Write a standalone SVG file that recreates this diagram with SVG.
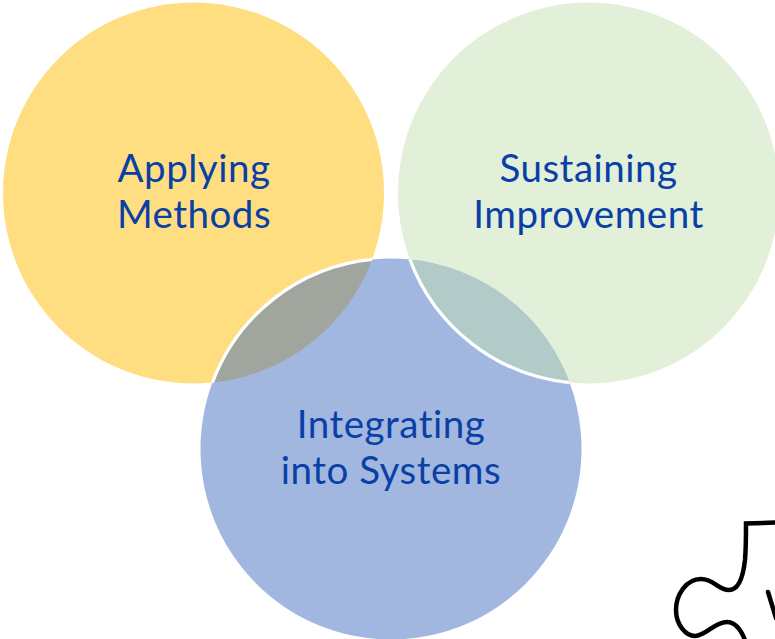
<svg xmlns="http://www.w3.org/2000/svg" width="775" height="639" viewBox="0 0 775 639">
<style>
text{font-family:"Lato","Open Sans","Liberation Sans",sans-serif;font-size:38.5px;fill:#0A3FA6;text-anchor:middle;font-variant-ligatures:none;letter-spacing:.5px}
.seam{fill:none;stroke:#fff;stroke-width:3.2}
.puzzle{fill:none;stroke:#000;stroke-width:4.5;stroke-linecap:round;stroke-linejoin:miter}
</style>
<rect width="775" height="639" fill="#fff"/>
<g id="node-applying">
<circle cx="193.5" cy="193" r="190.5" fill="#FFDD81"/>
<text x="194" y="182">Applying</text>
<text x="194" y="228">Methods</text>
</g>
<g id="node-sustaining">
<circle cx="588.5" cy="193" r="190.5" fill="#E2EFD9"/>
<text x="588.5" y="182">Sustaining</text>
<text x="588.5" y="228">Improvement</text>
</g>
<g id="node-integrating">
<circle cx="391" cy="449" r="190.5" fill="#A1B7E0"/>
<path d="M372.06 259.4A190.5 190.5 0 0 0 212.4 382.6A190.5 190.5 0 0 0 372.06 259.4Z" fill="#A0A69E"/>
<path d="M409.9 259.4A190.5 190.5 0 0 1 569.6 382.6A190.5 190.5 0 0 1 409.9 259.4Z" fill="#B2CBC9"/>
<text x="391" y="438">Integrating</text>
<text x="391" y="484">into Systems</text>
</g>
<g id="connectors">
<path class="seam" d="M372.06 259.4A190.5 190.5 0 0 0 212.4 382.6"/>
<path class="seam" d="M409.9 259.4A190.5 190.5 0 0 0 569.6 382.6"/>
</g>
<g id="puzzle">
<path class="puzzle" d="M775 522.5L746 523.5C746 535 746 548 745 560C743 578 738 590 729 590C718 590 714 579 701 579C686 579 676 595 676 610C676 625 686 636 695 636C706 636 714 622 727 622C735 622 741 630 745 640"/>
<path class="puzzle" d="M768 592L776 618"/>
</g>
</svg>
